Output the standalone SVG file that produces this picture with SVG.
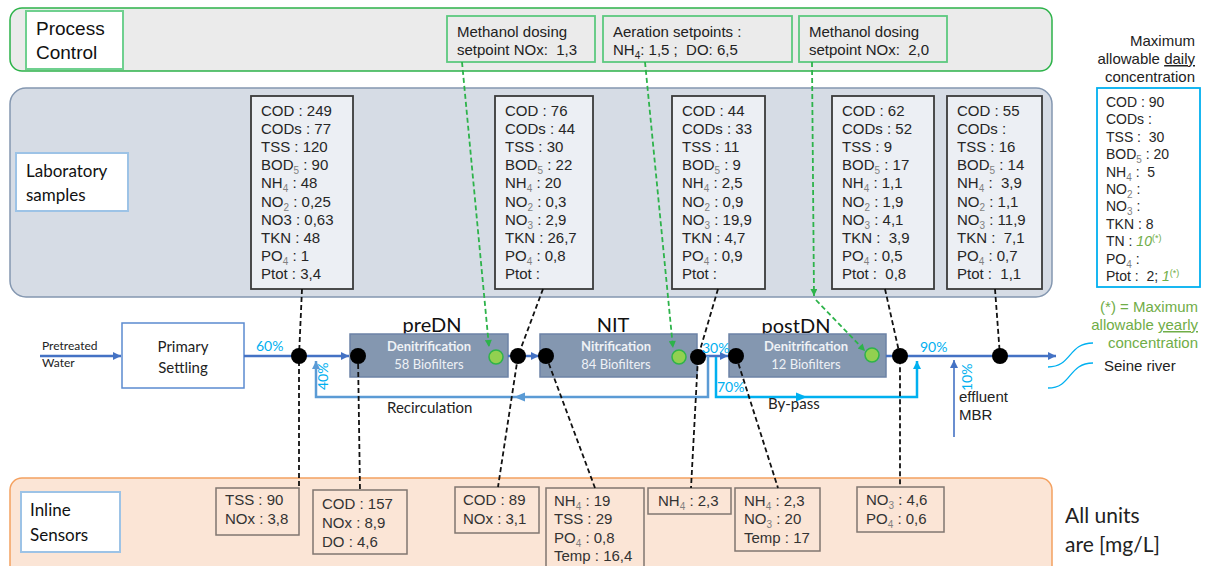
<svg xmlns="http://www.w3.org/2000/svg" width="1205" height="566" viewBox="0 0 1205 566">
<style>
.arial{font-family:"Liberation Sans",Arial,sans-serif}
.cal{font-family:Lato,"Open Sans",sans-serif}
.lt{font-family:"Liberation Sans",Arial,sans-serif;font-size:15px;fill:#262626}
.st{font-family:"Liberation Sans",Arial,sans-serif;font-size:15px;fill:#333}
.gt{font-family:"Liberation Sans",Arial,sans-serif;font-size:14px;fill:#262626}
.s{font-size:10px;fill:#7f7f7f}
.labbox{fill:#eceff4;stroke:#3a3a3a;stroke-width:1.8}
.senbox{fill:none;stroke:#807670;stroke-width:1.5}
.pbox{fill:#8497b0;stroke:#6c83a6;stroke-width:1.5}
.pt1{font-family:Lato,"Open Sans",sans-serif;font-size:13px;font-weight:bold;fill:#eef1f5;text-anchor:middle}
.pt2{font-family:Lato,"Open Sans",sans-serif;font-size:13px;fill:#eef1f5;text-anchor:middle}
.pl{font-family:Lato,"Open Sans",sans-serif;font-size:20px;fill:#111;text-anchor:middle}
.pct{font-family:Lato,"Open Sans",sans-serif;font-size:14px;fill:#00b0f0}
.blk{fill:#000}
.grn{fill:#92d050;stroke:#2fb34a;stroke-width:1.5}
.bd{fill:none;stroke:#111;stroke-width:1.8;stroke-dasharray:5,3}
.gd{fill:none;stroke:#2db34a;stroke-width:1.8;stroke-dasharray:5,3}
.main{fill:none;stroke:#4472c4;stroke-width:2.5}
.rec{fill:none;stroke:#5b9bd5;stroke-width:2.5}
.byp{fill:none;stroke:#00b0f0;stroke-width:2.5}
.gr{fill:#70ad47}
</style>
<defs>
<marker id="aB" viewBox="0 0 10 10" refX="10" refY="5" markerWidth="10" markerHeight="8" markerUnits="userSpaceOnUse" orient="auto"><path d="M0,0 L10,5 L0,10 z" fill="#4472c4"/></marker>
<marker id="aL" viewBox="0 0 10 10" refX="10" refY="5" markerWidth="10" markerHeight="8" markerUnits="userSpaceOnUse" orient="auto"><path d="M0,0 L10,5 L0,10 z" fill="#5b9bd5"/></marker>
<marker id="aC" viewBox="0 0 10 10" refX="10" refY="5" markerWidth="10" markerHeight="8" markerUnits="userSpaceOnUse" orient="auto"><path d="M0,0 L10,5 L0,10 z" fill="#00b0f0"/></marker>
<marker id="aG" viewBox="0 0 10 10" refX="10" refY="5" markerWidth="9" markerHeight="7" markerUnits="userSpaceOnUse" orient="auto"><path d="M0,0 L10,5 L0,10 z" fill="#2db34a"/></marker>
</defs>

<!-- Bands -->
<g id="band-process-control">
<rect x="10" y="8" width="1042" height="63" rx="12" fill="#ebebeb" stroke="#2db34a" stroke-width="1.5"/>
<rect x="26" y="11" width="97" height="58" fill="#fff" stroke="#6fd08f" stroke-width="2"/>
<text class="arial" font-size="19" x="36" y="35" fill="#111">Process</text>
<text class="arial" font-size="19" x="36" y="59" fill="#111">Control</text>
</g>
<g id="band-lab">
<rect x="10" y="88" width="1042" height="209" rx="16" fill="#d6dce5" stroke="#8497b0" stroke-width="1.5"/>
<rect x="16" y="153" width="112" height="58" fill="#fff" stroke="#9dc3e6" stroke-width="2"/>
<text class="cal" font-size="17" x="26" y="177" fill="#111">Laboratory</text>
<text class="cal" font-size="17" x="26" y="201" fill="#111">samples</text>
</g>
<g id="band-sensors">
<rect x="10" y="478" width="1042" height="100" rx="12" fill="#fbe5d6" stroke="#f4a160" stroke-width="1.5"/>
<rect x="21" y="492" width="99" height="60" fill="#fff" stroke="#9dc3e6" stroke-width="2"/>
<text class="cal" font-size="17" x="30" y="516" fill="#111">Inline</text>
<text class="cal" font-size="17" x="30" y="541" fill="#111">Sensors</text>
</g>

<!-- Setpoint boxes -->
<g id="sp1">
<rect x="447" y="16" width="148" height="46" fill="#ebebeb" stroke="#5cc97f" stroke-width="1.8"/>
<text class="arial" font-size="15" x="457" y="37" fill="#222">Methanol dosing</text>
<text class="arial" font-size="15" x="457" y="55" fill="#222" style="white-space:pre">setpoint NOx:  1,3</text>
</g>
<g id="sp2">
<rect x="603" y="16" width="189" height="46" fill="#ebebeb" stroke="#5cc97f" stroke-width="1.8"/>
<text class="arial" font-size="15" x="613" y="37" fill="#222">Aeration setpoints :</text>
<text class="arial" font-size="15" x="613" y="55" fill="#222" style="white-space:pre">NH<tspan font-size="10" dy="4">4</tspan><tspan dy="-4">: 1,5 ;  DO: 6,5</tspan></text>
</g>
<g id="sp3">
<rect x="799" y="16" width="148" height="46" fill="#ebebeb" stroke="#5cc97f" stroke-width="1.8"/>
<text class="arial" font-size="15" x="809" y="37" fill="#222">Methanol dosing</text>
<text class="arial" font-size="15" x="809" y="55" fill="#222" style="white-space:pre">setpoint NOx:  2,0</text>
</g>

<!-- Lab sample boxes -->
<g id="lab1">
<rect class="labbox" x="251" y="96" width="102" height="193"/>
<text class="lt" x="261" y="116">COD : 249</text>
<text class="lt" x="261" y="134">CODs : 77</text>
<text class="lt" x="261" y="152">TSS : 120</text>
<text class="lt" x="261" y="170">BOD<tspan class="s" dy="4">5</tspan><tspan dy="-4"> : 90</tspan></text>
<text class="lt" x="261" y="188">NH<tspan class="s" dy="4">4</tspan><tspan dy="-4"> : 48</tspan></text>
<text class="lt" x="261" y="207">NO<tspan class="s" dy="4">2</tspan><tspan dy="-4"> : 0,25</tspan></text>
<text class="lt" x="261" y="225">NO3 : 0,63</text>
<text class="lt" x="261" y="243">TKN : 48</text>
<text class="lt" x="261" y="261">PO<tspan class="s" dy="4">4</tspan><tspan dy="-4"> : 1</tspan></text>
<text class="lt" x="261" y="279">Ptot : 3,4</text>
</g>
<g id="lab2">
<rect class="labbox" x="495" y="96" width="98" height="193"/>
<text class="lt" x="505" y="116">COD : 76</text>
<text class="lt" x="505" y="134">CODs : 44</text>
<text class="lt" x="505" y="152">TSS : 30</text>
<text class="lt" x="505" y="170">BOD<tspan class="s" dy="4">5</tspan><tspan dy="-4"> : 22</tspan></text>
<text class="lt" x="505" y="188">NH<tspan class="s" dy="4">4</tspan><tspan dy="-4"> : 20</tspan></text>
<text class="lt" x="505" y="207">NO<tspan class="s" dy="4">2</tspan><tspan dy="-4"> : 0,3</tspan></text>
<text class="lt" x="505" y="225">NO<tspan class="s" dy="4">3</tspan><tspan dy="-4"> : 2,9</tspan></text>
<text class="lt" x="505" y="243">TKN : 26,7</text>
<text class="lt" x="505" y="261">PO<tspan class="s" dy="4">4</tspan><tspan dy="-4"> : 0,8</tspan></text>
<text class="lt" x="505" y="279">Ptot :</text>
</g>
<g id="lab3">
<rect class="labbox" x="672" y="96" width="93" height="193"/>
<text class="lt" x="682" y="116">COD : 44</text>
<text class="lt" x="682" y="134">CODs : 33</text>
<text class="lt" x="682" y="152">TSS : 11</text>
<text class="lt" x="682" y="170">BOD<tspan class="s" dy="4">5</tspan><tspan dy="-4"> : 9</tspan></text>
<text class="lt" x="682" y="188">NH<tspan class="s" dy="4">4</tspan><tspan dy="-4"> : 2,5</tspan></text>
<text class="lt" x="682" y="207">NO<tspan class="s" dy="4">2</tspan><tspan dy="-4"> : 0,9</tspan></text>
<text class="lt" x="682" y="225">NO<tspan class="s" dy="4">3</tspan><tspan dy="-4"> : 19,9</tspan></text>
<text class="lt" x="682" y="243">TKN : 4,7</text>
<text class="lt" x="682" y="261">PO<tspan class="s" dy="4">4</tspan><tspan dy="-4"> : 0,9</tspan></text>
<text class="lt" x="682" y="279">Ptot :</text>
</g>
<g id="lab4">
<rect class="labbox" x="832" y="96" width="102" height="193"/>
<text class="lt" x="842" y="116">COD : 62</text>
<text class="lt" x="842" y="134">CODs : 52</text>
<text class="lt" x="842" y="152">TSS : 9</text>
<text class="lt" x="842" y="170">BOD<tspan class="s" dy="4">5</tspan><tspan dy="-4"> : 17</tspan></text>
<text class="lt" x="842" y="188">NH<tspan class="s" dy="4">4</tspan><tspan dy="-4"> : 1,1</tspan></text>
<text class="lt" x="842" y="207">NO<tspan class="s" dy="4">2</tspan><tspan dy="-4"> : 1,9</tspan></text>
<text class="lt" x="842" y="225">NO<tspan class="s" dy="4">3</tspan><tspan dy="-4"> : 4,1</tspan></text>
<text class="lt" x="842" y="243" style="white-space:pre">TKN :  3,9</text>
<text class="lt" x="842" y="261">PO<tspan class="s" dy="4">4</tspan><tspan dy="-4"> : 0,5</tspan></text>
<text class="lt" x="842" y="279" style="white-space:pre">Ptot :  0,8</text>
</g>
<g id="lab5">
<rect class="labbox" x="947" y="96" width="95" height="193"/>
<text class="lt" x="957" y="116">COD : 55</text>
<text class="lt" x="957" y="134">CODs :</text>
<text class="lt" x="957" y="152">TSS : 16</text>
<text class="lt" x="957" y="170">BOD<tspan class="s" dy="4">5</tspan><tspan dy="-4"> : 14</tspan></text>
<text class="lt" x="957" y="188" style="white-space:pre">NH<tspan class="s" dy="4">4</tspan><tspan dy="-4"> :  3,9</tspan></text>
<text class="lt" x="957" y="207">NO<tspan class="s" dy="4">2</tspan><tspan dy="-4"> : 1,1</tspan></text>
<text class="lt" x="957" y="225">NO<tspan class="s" dy="4">3</tspan><tspan dy="-4"> : 11,9</tspan></text>
<text class="lt" x="957" y="243" style="white-space:pre">TKN :  7,1</text>
<text class="lt" x="957" y="261">PO<tspan class="s" dy="4">4</tspan><tspan dy="-4"> : 0,7</tspan></text>
<text class="lt" x="957" y="279" style="white-space:pre">Ptot :  1,1</text>
</g>

<!-- Legend -->
<g id="legend">
<text class="arial" font-size="15" x="1195" y="46" text-anchor="end" fill="#222">Maximum</text>
<text class="arial" font-size="15" x="1195" y="64" text-anchor="end" fill="#222">allowable <tspan text-decoration="underline">daily</tspan></text>
<text class="arial" font-size="15" x="1195" y="82" text-anchor="end" fill="#222">concentration</text>
<rect x="1097" y="88" width="103" height="199" fill="#fff" stroke="#00b0f0" stroke-width="1.8"/>
<text class="gt" x="1106" y="107">COD : 90</text>
<text class="gt" x="1106" y="124">CODs :</text>
<text class="gt" x="1106" y="142" style="white-space:pre">TSS :  30</text>
<text class="gt" x="1106" y="159">BOD<tspan class="s" dy="4">5</tspan><tspan dy="-4"> : 20</tspan></text>
<text class="gt" x="1106" y="177" style="white-space:pre">NH<tspan class="s" dy="4">4</tspan><tspan dy="-4"> :  5</tspan></text>
<text class="gt" x="1106" y="194">NO<tspan class="s" dy="4">2</tspan><tspan dy="-4"> :</tspan></text>
<text class="gt" x="1106" y="211">NO<tspan class="s" dy="4">3</tspan><tspan dy="-4"> :</tspan></text>
<text class="gt" x="1106" y="229">TKN : 8</text>
<text class="gt" x="1106" y="246">TN : <tspan class="gr" font-style="italic">10</tspan><tspan class="gr" font-size="9" dy="-5">(*)</tspan></text>
<text class="gt" x="1106" y="264">PO<tspan class="s" dy="4">4</tspan><tspan dy="-4"> :</tspan></text>
<text class="gt" x="1106" y="281" style="white-space:pre">Ptot :  2; <tspan class="gr" font-style="italic">1</tspan><tspan class="gr" font-size="9" dy="-5">(*)</tspan></text>
<text class="arial gr" font-size="15" x="1198" y="312" text-anchor="end">(*) = Maximum</text>
<text class="arial gr" font-size="15" x="1198" y="330" text-anchor="end">allowable <tspan text-decoration="underline">yearly</tspan></text>
<text class="arial gr" font-size="15" x="1198" y="348" text-anchor="end">concentration</text>
</g>

<!-- Process units -->
<g id="primary-settling">
<rect x="122" y="323" width="122" height="65" fill="#fff" stroke="#5b8bd0" stroke-width="1.5"/>
<text class="cal" font-size="15" x="183" y="352" text-anchor="middle" fill="#222">Primary</text>
<text class="cal" font-size="15" x="183" y="373" text-anchor="middle" fill="#222">Settling</text>
</g>
<g id="preDN">
<text class="pl" x="432" y="332">preDN</text>
<rect class="pbox" x="350" y="334" width="158" height="43"/>
<text class="pt1" x="429" y="351">Denitrification</text>
<text class="pt2" x="429" y="369">58 Biofilters</text>
</g>
<g id="NIT">
<text class="pl" x="613" y="332">NIT</text>
<rect class="pbox" x="540" y="334" width="157" height="43"/>
<text class="pt1" x="616" y="351">Nitrification</text>
<text class="pt2" x="616" y="369">84 Biofilters</text>
</g>
<g id="postDN">
<text class="pl" x="796" y="333">postDN</text>
<rect class="pbox" x="729" y="334" width="157" height="43"/>
<text class="pt1" x="806" y="351">Denitrification</text>
<text class="pt2" x="806" y="369">12 Biofilters</text>
</g>

<!-- Inline sensor boxes -->
<g id="sen1">
<rect class="senbox" x="216" y="488" width="83" height="47"/>
<text class="st" x="225" y="505">TSS : 90</text>
<text class="st" x="225" y="524">NOx : 3,8</text>
</g>
<g id="sen2">
<rect class="senbox" x="313" y="490" width="94" height="64"/>
<text class="st" x="322" y="509">COD : 157</text>
<text class="st" x="322" y="528">NOx : 8,9</text>
<text class="st" x="322" y="547">DO : 4,6</text>
</g>
<g id="sen3">
<rect class="senbox" x="455" y="487" width="84" height="46"/>
<text class="st" x="463" y="505">COD : 89</text>
<text class="st" x="463" y="524">NOx : 3,1</text>
</g>
<g id="sen4">
<rect class="senbox" x="546" y="488" width="98" height="90"/>
<text class="st" x="554" y="506">NH<tspan class="s" dy="4">4</tspan><tspan dy="-4"> : 19</tspan></text>
<text class="st" x="554" y="524">TSS : 29</text>
<text class="st" x="554" y="543">PO<tspan class="s" dy="4">4</tspan><tspan dy="-4"> : 0,8</tspan></text>
<text class="st" x="554" y="561">Temp : 16,4</text>
</g>
<g id="sen5">
<rect class="senbox" x="648" y="488" width="83" height="26"/>
<text class="st" x="658" y="506">NH<tspan class="s" dy="4">4</tspan><tspan dy="-4"> : 2,3</tspan></text>
</g>
<g id="sen6">
<rect class="senbox" x="735" y="488" width="85" height="63"/>
<text class="st" x="744" y="506">NH<tspan class="s" dy="4">4</tspan><tspan dy="-4"> : 2,3</tspan></text>
<text class="st" x="744" y="524">NO<tspan class="s" dy="4">3</tspan><tspan dy="-4"> : 20</tspan></text>
<text class="st" x="744" y="543">Temp : 17</text>
</g>
<g id="sen7">
<rect class="senbox" x="857" y="487" width="87" height="45"/>
<text class="st" x="866" y="505">NO<tspan class="s" dy="4">3</tspan><tspan dy="-4"> : 4,6</tspan></text>
<text class="st" x="866" y="524">PO<tspan class="s" dy="4">4</tspan><tspan dy="-4"> : 0,6</tspan></text>
</g>

<!-- Connectors -->
<g id="connectors">
<path class="main" d="M40,356 H121" marker-end="url(#aB)"/>
<path class="main" d="M244,356 H349" marker-end="url(#aB)"/>
<path class="main" d="M508,356 H539" marker-end="url(#aB)"/>
<path class="main" d="M697,356 H728" marker-end="url(#aB)"/>
<path class="main" d="M886,356 H1056" marker-end="url(#aB)"/>
<path class="rec" d="M708,356 V397 H316 V361" marker-end="url(#aL)"/>
<polygon points="514,397 525,392.5 525,401.5" fill="#5b9bd5"/>
<path class="byp" d="M716,357 V397 H917 V361" marker-end="url(#aC)"/>
<polygon points="807,397 796,392.5 796,401.5" fill="#00b0f0"/>
<path d="M954,437 V360" fill="none" stroke="#4472c4" stroke-width="1.6" marker-end="url(#aB)"/>
<path d="M1048,367 C1072,367 1068,343 1093,343" fill="none" stroke="#00b0f0" stroke-width="1.3"/>
<path d="M1048,388 C1072,388 1068,363 1093,363" fill="none" stroke="#00b0f0" stroke-width="1.3"/>
<path class="gd" d="M462,62 L489,347" marker-end="url(#aG)"/>
<path class="gd" d="M645,62 L673,348" marker-end="url(#aG)"/>
<path class="gd" d="M812,62 L814,296" marker-end="url(#aG)"/>
<path class="gd" d="M816,300 L865,351" marker-end="url(#aG)"/>
<path class="bd" d="M302,289 L299,356 L299,488"/>
<path class="bd" d="M358,356 L360,490"/>
<path class="bd" d="M543,289 L518,356 L498,487"/>
<path class="bd" d="M546,356 L595,488"/>
<path class="bd" d="M718,289 L698,357 L691,488"/>
<path class="bd" d="M736,356 L778,488"/>
<path class="bd" d="M885,289 L900,356 L900,487"/>
<path class="bd" d="M995,289 L1000,356"/>
</g>

<!-- Sample points -->
<g id="points">
<circle class="blk" cx="299" cy="356" r="8"/>
<circle class="blk" cx="358" cy="356" r="8"/>
<circle class="blk" cx="518" cy="356" r="8"/>
<circle class="blk" cx="546" cy="356" r="8"/>
<circle class="blk" cx="698" cy="357" r="8"/>
<circle class="blk" cx="736" cy="356" r="8"/>
<circle class="blk" cx="900" cy="356" r="8"/>
<circle class="blk" cx="1000" cy="356" r="8"/>
<circle class="grn" cx="496" cy="357" r="7"/>
<circle class="grn" cx="679" cy="357" r="7"/>
<circle class="grn" cx="872" cy="355" r="7"/>
</g>

<!-- Labels -->
<g id="labels">
<text class="cal" font-size="12" x="42" y="350" fill="#222">Pretreated</text>
<text class="cal" font-size="12" x="42" y="367" fill="#222">Water</text>
<text class="pct" x="256" y="351">60%</text>
<text class="pct" transform="translate(328,390) rotate(-90)">40%</text>
<text class="pct" x="702" y="353">30%</text>
<text class="pct" x="717" y="392">70%</text>
<text class="pct" x="920" y="352">90%</text>
<text class="pct" transform="translate(972,391) rotate(-90)">10%</text>
<text class="cal" font-size="15" x="387" y="413" fill="#222">Recirculation</text>
<text class="cal" font-size="15" x="768" y="409" fill="#222">By-pass</text>
<text class="arial" font-size="15" x="959" y="402" fill="#222">effluent</text>
<text class="arial" font-size="15" x="959" y="420" fill="#222">MBR</text>
<text class="arial" font-size="15" x="1104" y="371" fill="#222">Seine river</text>
<text class="cal" font-size="21" x="1065" y="523" fill="#222">All units</text>
<text class="cal" font-size="21" x="1065" y="552" fill="#222">are [mg/L]</text>
</g>
</svg>
